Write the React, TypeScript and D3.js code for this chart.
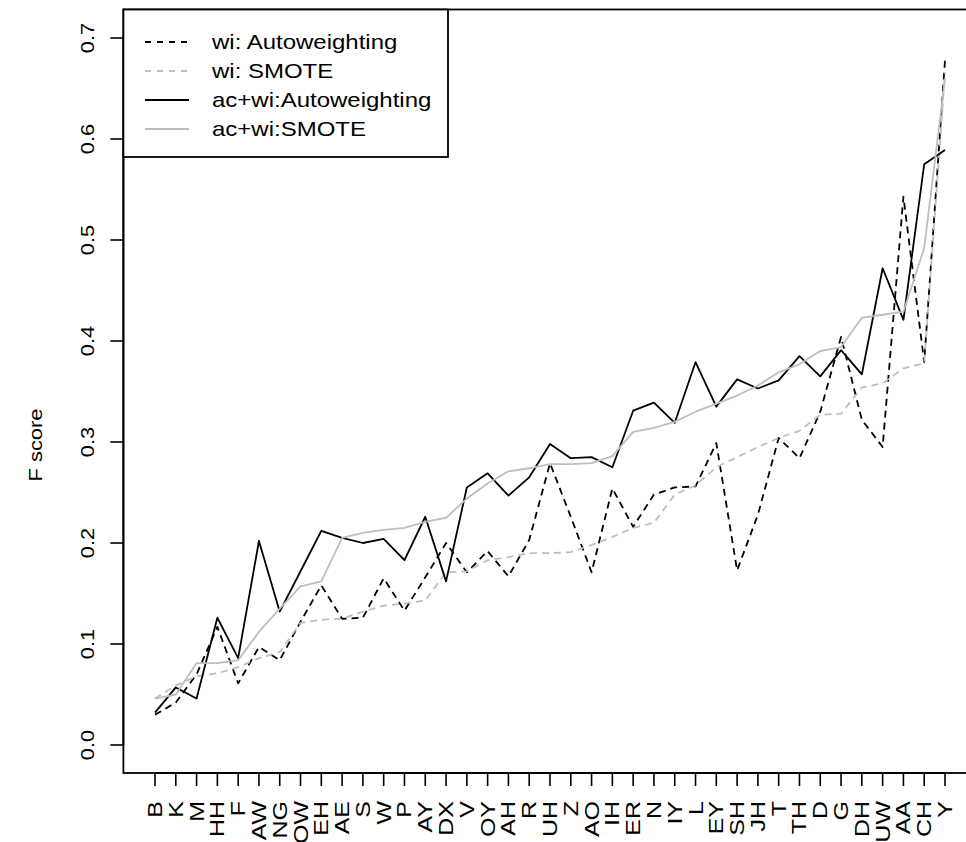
import React from "react";
import * as d3 from "d3";

const categories = ["B","K","M","HH","F","AW","NG","OW","EH","AE","S","W","P","AY","DX","V","OY","AH","R","UH","Z","AO","IH","ER","N","IY","L","EY","SH","JH","T","TH","D","G","DH","UW","AA","CH","Y"];

const wiAuto = [0.030,0.042,0.070,0.117,0.061,0.097,0.084,0.122,0.158,0.125,0.126,0.165,0.133,0.166,0.200,0.171,0.192,0.167,0.203,0.279,0.226,0.171,0.254,0.216,0.248,0.255,0.256,0.299,0.173,0.228,0.304,0.284,0.330,0.404,0.322,0.295,0.543,0.379,0.678];
const wiSmote = [0.046,0.059,0.068,0.071,0.077,0.086,0.092,0.121,0.124,0.125,0.132,0.138,0.140,0.143,0.171,0.172,0.183,0.186,0.190,0.190,0.191,0.198,0.206,0.215,0.220,0.248,0.257,0.275,0.285,0.295,0.304,0.311,0.327,0.328,0.354,0.358,0.373,0.378,0.665];
const acAuto = [0.032,0.057,0.046,0.126,0.086,0.202,0.132,0.172,0.212,0.205,0.200,0.204,0.183,0.226,0.162,0.255,0.269,0.247,0.265,0.298,0.284,0.285,0.275,0.331,0.339,0.319,0.379,0.335,0.362,0.353,0.361,0.385,0.365,0.391,0.367,0.472,0.421,0.575,0.589];
const acSmote = [0.046,0.050,0.081,0.081,0.084,0.112,0.135,0.157,0.162,0.205,0.210,0.213,0.215,0.221,0.225,0.244,0.259,0.271,0.274,0.278,0.278,0.279,0.286,0.310,0.314,0.320,0.330,0.338,0.346,0.356,0.369,0.377,0.390,0.394,0.423,0.426,0.429,0.492,0.660];

const yTicks = [0, 0.1, 0.2, 0.3, 0.4, 0.5, 0.6, 0.7];
const yTickLabels = ["0.0","0.1","0.2","0.3","0.4","0.5","0.6","0.7"];
const yTitle = "F score";

const seriesNames = ["wi: Autoweighting", "wi: SMOTE", "ac+wi:Autoweighting", "ac+wi:SMOTE"];
const seriesData = [wiAuto, wiSmote, acAuto, acSmote];
const seriesColors = ["#000000", "#bebebe", "#000000", "#bebebe"];
const seriesDashed = [true, true, false, false];

const FONT = "'Liberation Sans', Arial, Helvetica, sans-serif";

export default function App() {
  const W = 966, H = 842;
  const n = categories.length;
  const x = d3.scaleLinear().domain([1 - 0.04 * (n - 1), n + 0.04 * (n - 1)]).range([123.4, 976.6]);
  const y = d3.scaleLinear().domain([0, 0.7]).range([745, 38]);
  const left = x.range()[0], right = x.range()[1];
  const top = 9.5, bottom = 773;

  const line = d3.line<number>().x((_, i) => x(i + 1)).y((d) => y(d));

  return (
    <svg width={W} height={H} style={{ position: "absolute", left: 0, top: 0, background: "#fff" }} fontFamily={FONT}>
      <rect x={0} y={0} width={W} height={H} fill="#fff" />
      {seriesData.map((d, i) => (
        <path key={i} d={line(d) || ""} fill="none" stroke={seriesColors[i]} strokeWidth={1.8}
          strokeDasharray={seriesDashed[i] ? "7,5" : undefined} strokeLinejoin="round" />
      ))}
      <rect x={left} y={top} width={right - left} height={bottom - top} fill="none" stroke="#000" strokeWidth={1.8} />
      <line x1={left} x2={left} y1={y(0)} y2={y(0.7)} stroke="#000" strokeWidth={1.8} />
      {yTicks.map((t, i) => (
        <g key={t}>
          <line x1={left - 13} x2={left} y1={y(t)} y2={y(t)} stroke="#000" strokeWidth={1.6} />
          <text transform={`translate(94,${y(t)}) rotate(-90) scale(1.15,1)`} textAnchor="middle" fontSize={19} fill="#000">{yTickLabels[i]}</text>
        </g>
      ))}
      <text transform={`translate(42,445) rotate(-90) scale(1.15,1)`} textAnchor="middle" fontSize={19} fill="#000">{yTitle}</text>
      <line x1={x(1)} x2={x(n)} y1={bottom} y2={bottom} stroke="#000" strokeWidth={1.8} />
      {categories.map((c, i) => (
        <g key={c}>
          <line x1={x(i + 1)} x2={x(i + 1)} y1={bottom} y2={bottom + 13} stroke="#000" strokeWidth={1.6} />
          <text transform={`translate(${x(i + 1) + 7},801) rotate(-90) scale(1.25,1)`} textAnchor="end" fontSize={20} fill="#000">{c}</text>
        </g>
      ))}
      <rect x={123.4} y={top} width={324.6} height={147.5} fill="#fff" stroke="#000" strokeWidth={1.8} />
      {seriesNames.map((s, i) => {
        const ly = 42 + i * 29;
        return (
          <g key={s}>
            <line x1={145} x2={189} y1={ly} y2={ly} stroke={seriesColors[i]} strokeWidth={1.8}
              strokeDasharray={seriesDashed[i] ? "6,6" : undefined} />
            <text transform={`translate(212,${ly + 7}) scale(1.2,1)`} fontSize={20} fill="#000">{s}</text>
          </g>
        );
      })}
    </svg>
  );
}
